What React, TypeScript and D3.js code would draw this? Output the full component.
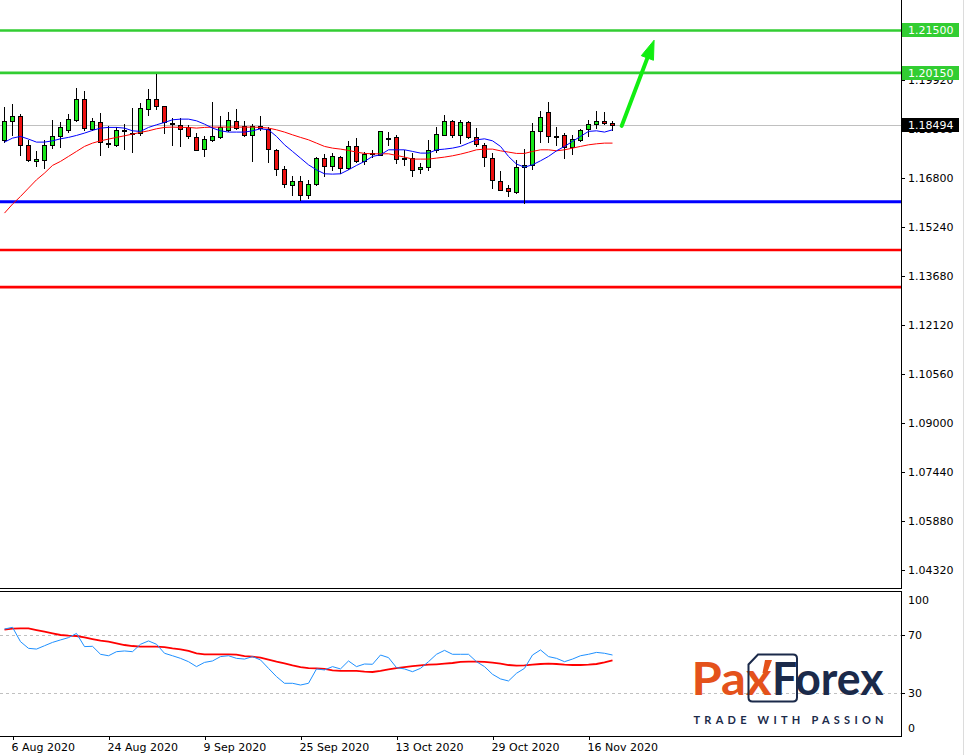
import * as d3 from "d3";

// EURUSD daily, 5 Aug 2020 - 19 Nov 2020
const dates = [
  "2020-08-05", "2020-08-06", "2020-08-07", "2020-08-10", "2020-08-11", "2020-08-12", "2020-08-13", "2020-08-14",
  "2020-08-17", "2020-08-18", "2020-08-19", "2020-08-20", "2020-08-21", "2020-08-24", "2020-08-25", "2020-08-26",
  "2020-08-27", "2020-08-28", "2020-08-31", "2020-09-01", "2020-09-02", "2020-09-03", "2020-09-04", "2020-09-07",
  "2020-09-08", "2020-09-09", "2020-09-10", "2020-09-11", "2020-09-14", "2020-09-15", "2020-09-16", "2020-09-17",
  "2020-09-18", "2020-09-21", "2020-09-22", "2020-09-23", "2020-09-24", "2020-09-25", "2020-09-28", "2020-09-29",
  "2020-09-30", "2020-10-01", "2020-10-02", "2020-10-05", "2020-10-06", "2020-10-07", "2020-10-08", "2020-10-09",
  "2020-10-12", "2020-10-13", "2020-10-14", "2020-10-15", "2020-10-16", "2020-10-19", "2020-10-20", "2020-10-21",
  "2020-10-22", "2020-10-23", "2020-10-26", "2020-10-27", "2020-10-28", "2020-10-29", "2020-10-30", "2020-11-02",
  "2020-11-03", "2020-11-04", "2020-11-05", "2020-11-06", "2020-11-09", "2020-11-10", "2020-11-11", "2020-11-12",
  "2020-11-13", "2020-11-16", "2020-11-17", "2020-11-18", "2020-11-19",
];

const open = [
  1.18, 1.18605, 1.18764, 1.17841, 1.17341, 1.17383, 1.17841, 1.18128, 1.18338, 1.18656,
  1.19306, 1.1837, 1.18573, 1.17905, 1.17841, 1.18328, 1.18233, 1.18233, 1.19006, 1.19325,
  1.19083, 1.18541, 1.18478, 1.18414, 1.18096, 1.17733, 1.18, 1.18096, 1.18338, 1.18605,
  1.18446, 1.18159, 1.18465, 1.1837, 1.1769, 1.17086, 1.16568, 1.16695, 1.16259, 1.16619,
  1.17437, 1.17192, 1.17469, 1.17118, 1.17809, 1.17332, 1.1758, 1.17542, 1.18064, 1.18096,
  1.17453, 1.17437, 1.17086, 1.1714, 1.17682, 1.18179, 1.18605, 1.18159, 1.18583, 1.18096,
  1.17841, 1.17437, 1.16695, 1.16482, 1.16345, 1.1714, 1.17223, 1.18306, 1.18892, 1.18153,
  1.18159, 1.17777, 1.18, 1.1837, 1.18519, 1.18605, 1.18551,
];
const high = [
  1.19051, 1.19156, 1.18838, 1.18019, 1.1766, 1.18019, 1.18637, 1.18573, 1.18838, 1.19665,
  1.1956, 1.1871, 1.18869, 1.18446, 1.18414, 1.18519, 1.19029, 1.19188, 1.19643, 1.2010,
  1.19092, 1.1871, 1.1871, 1.18497, 1.18233, 1.18128, 1.1921, 1.18764, 1.18892, 1.18997,
  1.18605, 1.18519, 1.18764, 1.18414, 1.17723, 1.17172, 1.16854, 1.16854, 1.16736, 1.17469,
  1.17564, 1.17596, 1.17491, 1.17988, 1.18073, 1.17628, 1.17692, 1.18306, 1.18264, 1.18159,
  1.1769, 1.17596, 1.17278, 1.18019, 1.18414, 1.18815, 1.18656, 1.18656, 1.18624, 1.18392,
  1.17914, 1.17596, 1.17013, 1.16587, 1.17383, 1.17723, 1.18551, 1.18943, 1.1921, 1.18414,
  1.18233, 1.18159, 1.1836, 1.18656, 1.18943, 1.18901, 1.18605,
];
const low = [
  1.17946, 1.18159, 1.17542, 1.17351, 1.17192, 1.17118, 1.17755, 1.17787, 1.18264, 1.18624,
  1.18338, 1.18319, 1.17542, 1.17797, 1.17809, 1.17733, 1.17628, 1.18159, 1.18815, 1.18997,
  1.18233, 1.1786, 1.17809, 1.18073, 1.1769, 1.1751, 1.17968, 1.18073, 1.18306, 1.1836,
  1.18128, 1.17351, 1.18328, 1.17309, 1.16905, 1.16504, 1.16249, 1.16109, 1.16163, 1.16587,
  1.16854, 1.17064, 1.16959, 1.17096, 1.173, 1.17255, 1.17469, 1.17523, 1.1786, 1.17278,
  1.17204, 1.16873, 1.16959, 1.17064, 1.17628, 1.18159, 1.18096, 1.17914, 1.18073, 1.17809,
  1.17172, 1.16482, 1.16409, 1.16217, 1.16323, 1.16004, 1.17096, 1.17937, 1.17937, 1.1786,
  1.17437, 1.17564, 1.17968, 1.18128, 1.18392, 1.18519, 1.18319,
];
const close = [
  1.18605, 1.18764, 1.1786, 1.17373, 1.17405, 1.17841, 1.18128, 1.18414, 1.18669, 1.19306,
  1.18392, 1.18605, 1.17956, 1.17873, 1.18319, 1.18344, 1.18249, 1.19019, 1.19325, 1.19108,
  1.18573, 1.18519, 1.1837, 1.18128, 1.17701, 1.18042, 1.18128, 1.18424, 1.18637, 1.18392,
  1.18159, 1.18465, 1.18392, 1.17723, 1.17086, 1.16609, 1.16695, 1.16268, 1.16625, 1.17437,
  1.17192, 1.17491, 1.17118, 1.17809, 1.17332, 1.17574, 1.17596, 1.18287, 1.18083, 1.17414,
  1.17421, 1.17064, 1.1715, 1.17682, 1.18201, 1.18605, 1.18159, 1.18583, 1.18096, 1.17882,
  1.17459, 1.16727, 1.16428, 1.16396, 1.1715, 1.17223, 1.18287, 1.18732, 1.18128, 1.18137,
  1.17777, 1.18042, 1.18319, 1.18519, 1.18605, 1.18541, 1.18494,
];

// moving averages
const maFast = [
  1.17946, 1.18073, 1.18128, 1.18042, 1.17946, 1.17946, 1.17987, 1.18051, 1.18096, 1.18159,
  1.18233, 1.18319, 1.18392, 1.18414, 1.18414, 1.18392, 1.18306, 1.18287, 1.18414, 1.18497,
  1.18573, 1.18656, 1.18678, 1.18678, 1.18624, 1.18519, 1.18392, 1.18306, 1.18265, 1.18265,
  1.18265, 1.18306, 1.1837, 1.18338, 1.18128, 1.1786, 1.1765, 1.17437, 1.17223, 1.17064,
  1.16937, 1.16927, 1.16937, 1.17064, 1.17204, 1.17332, 1.17491, 1.17542, 1.17701, 1.17701,
  1.17701, 1.1765, 1.17596, 1.17596, 1.17701, 1.17723, 1.17755, 1.17809, 1.17914, 1.18019,
  1.18051, 1.17987, 1.17809, 1.17491, 1.17246, 1.1715, 1.17223, 1.17351, 1.17491, 1.17669,
  1.17809, 1.17968, 1.18128, 1.18287, 1.18306, 1.18265, 1.18338,
];
const maSlow = [
  1.15686, 1.15972, 1.16217, 1.16482, 1.16746, 1.16959, 1.17204, 1.17332, 1.17491, 1.1765,
  1.17809, 1.17914, 1.17987, 1.18042, 1.18096, 1.18147, 1.18201, 1.18255, 1.18306, 1.1837,
  1.18414, 1.18424, 1.18414, 1.18414, 1.18392, 1.18414, 1.18424, 1.18424, 1.18424, 1.18424,
  1.18424, 1.18424, 1.18414, 1.18392, 1.18338, 1.18265, 1.18178, 1.18096, 1.18019, 1.17914,
  1.17809, 1.17755, 1.17723, 1.17682, 1.17628, 1.17586, 1.17574, 1.17574, 1.17574, 1.17523,
  1.17469, 1.17405, 1.17405, 1.17405, 1.17437, 1.17469, 1.1751, 1.17564, 1.17628, 1.17701,
  1.17723, 1.17723, 1.17669, 1.17628, 1.17586, 1.17586, 1.1765, 1.17701, 1.17701, 1.17669,
  1.17701, 1.17755, 1.17809, 1.1786, 1.17892, 1.17914, 1.17914,
];

const rsi = [
  74.1, 75.3, 65.4, 60.8, 60.3, 62.6, 64.9, 66.6, 68.2, 71.1,
  62.0, 62.2, 56.7, 55.7, 58.5, 59.0, 58.5, 63.6, 65.9, 63.6,
  57.4, 55.7, 53.9, 51.6, 48.2, 51.1, 52.1, 55.1, 55.7, 53.9,
  53.4, 55.1, 52.8, 47.0, 41.3, 36.7, 36.7, 35.5, 36.7, 46.6,
  45.9, 48.2, 46.6, 52.1, 48.2, 50.0, 49.8, 56.2, 54.4, 47.5,
  46.6, 44.7, 47.0, 51.6, 56.7, 59.4, 56.7, 56.7, 56.7, 51.6,
  48.2, 42.9, 39.7, 38.3, 43.6, 47.0, 56.2, 59.7, 55.1, 53.9,
  51.6, 53.4, 55.7, 56.7, 58.0, 57.4, 56.2,
];
const rsiMa = [
  73.7, 74.4, 74.6, 74.6, 73.4, 72.3, 71.1, 70.0, 69.5, 69.3,
  68.4, 67.2, 66.1, 65.4, 64.3, 63.1, 62.4, 62.0, 62.0, 62.0,
  61.7, 60.8, 60.1, 59.0, 57.4, 56.7, 56.7, 56.7, 56.7, 56.4,
  55.5, 55.1, 54.4, 53.0, 51.6, 50.5, 49.1, 47.9, 47.2, 47.0,
  46.6, 45.6, 45.2, 45.2, 45.2, 44.7, 44.5, 45.2, 46.3, 47.2,
  47.9, 48.6, 49.1, 49.5, 49.8, 50.2, 50.7, 51.4, 51.6, 51.6,
  51.4, 50.9, 50.2, 49.3, 48.9, 49.1, 49.5, 50.0, 50.2, 50.0,
  49.5, 49.3, 49.3, 49.5, 50.0, 51.1, 52.5,
];

const priceTicks = [1.2148, 1.1992, 1.1836, 1.168, 1.1524, 1.1368, 1.1212, 1.1056, 1.09, 1.0744, 1.0588, 1.0432];
const rsiTicks = [100, 70, 30, 0];
const rsiLevels = [70, 30];
const dateTicks = ["2020-08-06", "2020-08-24", "2020-09-09", "2020-09-25", "2020-10-13", "2020-10-29", "2020-11-16"];

const greenLevels = [1.215, 1.2015];
const blueLevels = [1.1605];
const redLevels = [1.1451, 1.1333];
const lastPrice = 1.18494;
// forecast arrow, in bar index / price
const arrowFrom = { i: 77.15, p: 1.18463 };
const arrowTo = { i: 81.2, p: 1.2119 };

const AXIS_X = 901;
const MAIN_BOTTOM = 589;
const FONT = "'DejaVu Sans', Verdana, sans-serif";
const BULL = "#19e619";
const BEAR = "#ee1111";
const LEVEL_GREEN = "#32cd32";

const parse = d3.timeParse("%Y-%m-%d");
const fmtDate = d3.timeFormat("%-d %b %Y");
const fmtPrice = d3.format(".5f");

export default function App() {
  const x = d3.scaleLinear().domain([0, 1]).range([4.5, 12.5]);
  const y = d3.scaleLinear().domain([1.0372, 1.2247]).range([MAIN_BOTTOM, 0]);
  const yR = d3.scaleLinear().domain([0, 100]).range([736.5, 591.5]);
  const snap = (v: number) => Math.round(v) + 0.5;

  const priceLine = (vals: number[]) =>
    d3.line<number>().x((_, i) => x(i)).y((v) => y(v))(vals) ?? "";
  const rsiLine = (vals: number[]) =>
    d3.line<number>().x((_, i) => x(i)).y((v) => yR(v))(vals) ?? "";

  // arrow geometry
  const ax1 = x(arrowFrom.i), ay1 = y(arrowFrom.p);
  const ax2 = x(arrowTo.i), ay2 = y(arrowTo.p);
  const len = Math.hypot(ax2 - ax1, ay2 - ay1);
  const ux = (ax2 - ax1) / len, uy = (ay2 - ay1) / len;
  const headL = 19, headW = 6.5;
  const bx = ax2 - ux * headL, by = ay2 - uy * headL;
  const head = `M${ax2},${ay2}L${bx - uy * headW},${by + ux * headW}L${bx + uy * headW},${by - ux * headW}Z`;

  const labelBox = (price: number, fill: string, key: string) => {
    const yy = Math.round(y(price));
    return (
      <g key={key}>
        <rect x={902} y={yy - 7} width={57} height={14} fill={fill} />
        <text x={908} y={yy} dy="0.36em" fontSize={11} fill="#fff" fontFamily={FONT}>
          {fmtPrice(price)}
        </text>
      </g>
    );
  };

  return (
    <svg
      width={967}
      height={755}
      style={{ position: "absolute", left: 0, top: 0, background: "#fff" }}
    >
      <defs>
        <clipPath id="mainClip">
          <rect x={0} y={0} width={AXIS_X} height={MAIN_BOTTOM} />
        </clipPath>
        <clipPath id="rsiClip">
          <rect x={0} y={592} width={AXIS_X} height={144} />
        </clipPath>
      </defs>

      {/* main panel */}
      <g clipPath="url(#mainClip)">
        <line x1={0} x2={AXIS_X} y1={snap(y(lastPrice))} y2={snap(y(lastPrice))} stroke="#c0c0c0" />
        {greenLevels.map((p, i) => (
          <line key={`g${i}`} x1={0} x2={AXIS_X} y1={y(p)} y2={y(p)} stroke={LEVEL_GREEN} strokeWidth={2.6} />
        ))}
        {blueLevels.map((p, i) => (
          <line key={`b${i}`} x1={0} x2={AXIS_X} y1={y(p)} y2={y(p)} stroke="#0000ff" strokeWidth={3} />
        ))}
        {redLevels.map((p, i) => (
          <line key={`r${i}`} x1={0} x2={AXIS_X} y1={y(p)} y2={y(p)} stroke="#ff0000" strokeWidth={2.6} />
        ))}

        {dates.map((d, i) => {
          const cx = x(i);
          const o = open[i], c = close[i];
          const top = Math.round(y(Math.max(o, c)));
          const bot = Math.round(y(Math.min(o, c)));
          return (
            <g key={d}>
              <line x1={cx} x2={cx} y1={Math.round(y(high[i]))} y2={Math.round(y(low[i])) + 1} stroke="#000" />
              <rect
                x={cx - 2}
                y={top + 0.5}
                width={4}
                height={Math.max(1, bot - top)}
                fill={c >= o ? BULL : BEAR}
                stroke="#000"
              />
            </g>
          );
        })}

        <path d={priceLine(maSlow)} fill="none" stroke="#ff0000" strokeWidth={1} />
        <path d={priceLine(maFast)} fill="none" stroke="#0000ff" strokeWidth={1} />

        <line x1={ax1} y1={ay1} x2={bx + ux * 2} y2={by + uy * 2} stroke="#11ee11" strokeWidth={4} strokeLinecap="round" />
        <path d={head} fill="#11ee11" stroke="#11ee11" strokeWidth={1} strokeLinejoin="round" />
      </g>

      {/* price axis */}
      <line x1={AXIS_X + 0.5} x2={AXIS_X + 0.5} y1={0} y2={MAIN_BOTTOM} stroke="#000" />
      <line x1={0} x2={AXIS_X + 1} y1={MAIN_BOTTOM - 0.5} y2={MAIN_BOTTOM - 0.5} stroke="#000" />
      {priceTicks.map((t) => {
        const yy = Math.round(y(t));
        return (
          <g key={t}>
            <line x1={AXIS_X} x2={AXIS_X + 4} y1={yy + 0.5} y2={yy + 0.5} stroke="#000" />
            <text x={908} y={yy} dy="0.36em" fontSize={11} fill="#000" fontFamily={FONT}>
              {fmtPrice(t)}
            </text>
          </g>
        );
      })}
      {greenLevels.map((p, i) => labelBox(p, LEVEL_GREEN, `gl${i}`))}
      {labelBox(lastPrice, "#000", "last")}

      {/* RSI panel */}
      <line x1={0} x2={AXIS_X + 1} y1={591.5} y2={591.5} stroke="#000" />
      <line x1={0} x2={AXIS_X + 1} y1={736.5} y2={736.5} stroke="#000" />
      <line x1={AXIS_X + 0.5} x2={AXIS_X + 0.5} y1={591} y2={737} stroke="#000" />
      {rsiLevels.map((l) => (
        <g key={l}>
          <line x1={0} x2={AXIS_X} y1={snap(yR(l))} y2={snap(yR(l))} stroke="#c0c0c0" strokeDasharray="3,3" />
          <line x1={AXIS_X} x2={AXIS_X + 4} y1={snap(yR(l))} y2={snap(yR(l))} stroke="#000" />
        </g>
      ))}
      {rsiTicks.map((t) => {
        const yy = Math.min(Math.max(yR(t), 600), 728);
        return (
          <text key={t} x={908} y={yy} dy="0.36em" fontSize={11} fill="#000" fontFamily={FONT}>
            {t}
          </text>
        );
      })}
      <g clipPath="url(#rsiClip)">
        <path d={rsiLine(rsiMa)} fill="none" stroke="#ff0000" strokeWidth={1.8} />
        <path d={rsiLine(rsi)} fill="none" stroke="#1e90ff" strokeWidth={1} />
      </g>

      {/* logo */}
      <g>
        <text x={691.5} y={695} fontSize={45} fontWeight={700} fill="#e4521b" fontFamily="Lato, 'Open Sans', sans-serif" textLength={80} lengthAdjust="spacingAndGlyphs">
          Pax
        </text>
        <path
          d="M758,654.5 H793 Q797,654.5 797,658.5 V697.5 Q797,701.5 793,701.5 H752.5 Q748.5,701.5 748.5,697.5 V664.5 Z"
          fill="none"
          stroke="#1b2a4a"
          strokeWidth={2}
        />
        <path d="M765,660 L772,660 L767,673 L762.5,673 Z" fill="#e4521b" />
        <text x={772} y={695} fontSize={45} fontWeight={700} fill="#1b2a4a" fontFamily="Lato, 'Open Sans', sans-serif" textLength={111.5} lengthAdjust="spacingAndGlyphs">
          Forex
        </text>
        <text x={693.5} y={724} fontSize={11} fontWeight={700} fill="#1b2a4a" fontFamily="Lato, 'Open Sans', sans-serif" textLength={190} lengthAdjust="spacing">
          TRADE WITH PASSION
        </text>
      </g>

      {/* date axis */}
      {dateTicks.map((d) => {
        const i = dates.indexOf(d);
        const tx = Math.round(x(i)) + 0.5;
        return (
          <g key={d}>
            <line x1={tx} x2={tx} y1={736} y2={740} stroke="#000" />
            <text x={tx - 2} y={747} dy="0.36em" fontSize={11} fill="#000" fontFamily={FONT}>
              {fmtDate(parse(d)!)}
            </text>
          </g>
        );
      })}

      <line x1={963.5} x2={963.5} y1={0} y2={755} stroke="#dcdcdc" />
    </svg>
  );
}
